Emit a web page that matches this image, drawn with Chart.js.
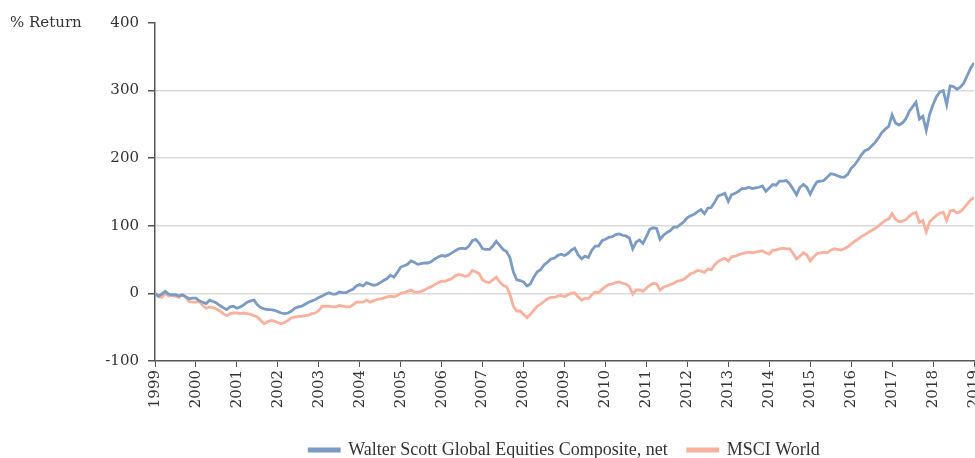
<!DOCTYPE html>
<html>
<head>
<meta charset="utf-8">
<title>% Return</title>
<script src="https://cdn.jsdelivr.net/npm/chart.js@4.4.1/dist/chart.umd.min.js"></script>
<style>
  html, body { margin: 0; padding: 0; background: #fff; }
</style>
</head>
<body>
<canvas id="returnChart" width="975" height="458"></canvas>
<script>
// Cumulative % return, monthly from Jan 1999 to Jan 2019
const startYear = 1999;
const yearTicks = [1999, 2000, 2001, 2002, 2003, 2004, 2005, 2006, 2007, 2008, 2009,
                   2010, 2011, 2012, 2013, 2014, 2015, 2016, 2017, 2018, 2019];
const seriesNames = ['Walter Scott Global Equities Composite, net', 'MSCI World'];

const walterScott = [
    0, -4, -1, 3, -1, -2, -2, -4, -2, -5, -8, -7,                // 1999
    -7, -11, -13, -15, -10, -12, -14, -18, -21, -24, -20, -19,   // 2000
    -22, -20, -17, -13, -11, -10, -17, -21, -23, -24, -24, -25,  // 2001
    -27, -29, -30, -29, -26, -22, -20, -19, -16, -13, -11, -9,   // 2002
    -6, -4, -1, 1, -1, -1, 2, 1, 1, 4, 6, 11,                    // 2003
    13, 11, 16, 14, 12, 13, 16, 19, 22, 27, 24, 31,              // 2004
    39, 41, 43, 48, 46, 43, 44, 45, 45, 47, 51, 54,              // 2005
    56, 55, 57, 60, 63, 66, 67, 66, 70, 78, 80, 74,              // 2006
    66, 65, 65, 70, 77, 71, 65, 62, 53, 32, 20, 19,              // 2007
    17, 11, 14, 24, 32, 35, 42, 46, 51, 52, 56, 58,              // 2008
    56, 59, 64, 67, 57, 51, 55, 53, 64, 70, 70, 78,              // 2009
    80, 83, 84, 87, 88, 86, 85, 82, 66, 76, 79, 74,              // 2010
    84, 95, 97, 96, 80, 86, 90, 93, 98, 98, 102, 106,            // 2011
    112, 115, 117, 121, 124, 118, 126, 127, 135, 144, 146, 148,  // 2012
    136, 146, 148, 151, 155, 155, 157, 155, 156, 157, 159, 151,  // 2013
    156, 161, 160, 166, 166, 167, 162, 154, 146, 157, 161, 157,  // 2014
    147, 157, 165, 166, 167, 172, 177, 176, 174, 172, 172, 176,  // 2015
    185, 190, 197, 205, 211, 213, 218, 223, 230, 238, 243, 247,  // 2016
    264, 252, 249, 252, 258, 269, 276, 283, 258, 262, 241, 265,  // 2017
    279, 291, 298, 300, 279, 307, 306, 302, 305, 311, 322, 333,  // 2018
    341                                                          // 2019
];

const msciWorld = [
    0, -5, -6, 0, -4, -3, -4, -6, -2, -6, -12, -13,              // 1999
    -13, -12, -18, -22, -20, -21, -23, -26, -30, -33, -30, -29,  // 2000
    -29, -30, -29, -30, -31, -33, -35, -40, -45, -42, -40, -41,  // 2001
    -43, -45, -43, -40, -36, -35, -34, -34, -33, -32, -30, -29,  // 2002
    -25, -19, -19, -19, -20, -20, -18, -19, -20, -20, -17, -13,  // 2003
    -13, -13, -10, -13, -11, -9, -8, -7, -5, -4, -5, -3,         // 2004
    0, 1, 3, 5, 2, 2, 3, 5, 8, 10, 13, 16,                       // 2005
    18, 18, 20, 22, 26, 28, 27, 25, 27, 34, 32, 29,              // 2006
    20, 17, 16, 20, 24, 17, 12, 10, -1, -19, -26, -26,           // 2007
    -31, -36, -31, -25, -19, -16, -12, -8, -6, -6, -4, -3,       // 2008
    -5, -2, 0, 1, -5, -10, -7, -8, -2, 2, 1, 6,                  // 2009
    10, 13, 14, 16, 17, 15, 14, 10, -1, 5, 5, 3,                 // 2010
    8, 12, 15, 14, 5, 9, 11, 13, 15, 18, 19, 21,                 // 2011
    25, 29, 31, 34, 33, 31, 36, 35, 42, 47, 50, 52,              // 2012
    48, 54, 55, 57, 59, 60, 61, 60, 61, 62, 63, 60,              // 2013
    58, 64, 64, 66, 67, 66, 66, 59, 51, 55, 60, 57,              // 2014
    48, 54, 59, 60, 61, 60, 64, 66, 65, 64, 66, 69,              // 2015
    73, 77, 80, 84, 87, 90, 93, 96, 100, 104, 108, 110,          // 2016
    118, 110, 106, 107, 109, 114, 118, 120, 105, 108, 91, 106,   // 2017
    111, 115, 119, 120, 108, 122, 123, 119, 121, 126, 132, 138,  // 2018
    142                                                          // 2019
];

const yMin = -100;
const yMax = 400;
const yStep = 100;

// colours
const blueLine = '#7b9bc5';
const salmonLine = '#f9b09c';
const axisColor = '#555555';
const gridColor = '#dadada';
const textColor = '#333333';
const serif = "'DejaVu Serif', serif";

// month index -> decimal year for the linear x axis
function toPoints(values) {
    return values.map((v, i) => ({ x: startYear + i / 12, y: v }));
}

// "% Return" label above the y axis
const axisTitle = {
    id: 'axisTitle',
    afterDraw(chart) {
        const ctx = chart.ctx;
        ctx.save();
        ctx.font = "15px 'DejaVu Serif'";
        ctx.fillStyle = textColor;
        ctx.textAlign = 'left';
        ctx.textBaseline = 'middle';
        ctx.fillText('% Return', 10, chart.scales.y.getPixelForValue(yMax));
        ctx.restore();
    }
};

const ctx = document.getElementById('returnChart');

new Chart(ctx, {
    type: 'line',
    data: {
        datasets: [{
            label: seriesNames[0],
            data: toPoints(walterScott),
            borderColor: blueLine,
            backgroundColor: blueLine,
            borderWidth: 2.8,
            pointRadius: 0,
            tension: 0
        }, {
            label: seriesNames[1],
            data: toPoints(msciWorld),
            borderColor: salmonLine,
            backgroundColor: salmonLine,
            borderWidth: 2.8,
            pointRadius: 0,
            tension: 0
        }]
    },
    options: {
        responsive: false,
        animation: false,
        events: [],
        layout: { padding: { top: 23, right: 1, bottom: -11, left: 0 } },
        plugins: {
            tooltip: { enabled: false },
            legend: {
                position: 'bottom',
                fullSize: false,
                labels: {
                    color: textColor,
                    font: { family: "'Liberation Serif', serif", size: 18 },
                    boxWidth: 30,
                    boxHeight: 2,
                    padding: 20
                }
            }
        },
        scales: {
            x: {
                type: 'linear',
                min: yearTicks[0],
                max: yearTicks[yearTicks.length - 1],
                afterBuildTicks: (scale) => {
                    scale.ticks = yearTicks.map(v => ({ value: v }));
                },
                afterFit: (scale) => {
                    scale.height = 60;
                    scale.paddingLeft = 0;
                    scale.paddingRight = 0;
                },
                grid: {
                    drawOnChartArea: false,
                    tickLength: 6,
                    tickColor: axisColor
                },
                border: { color: axisColor, width: 1.5 },
                ticks: {
                    autoSkip: false,
                    maxRotation: 90,
                    minRotation: 90,
                    padding: 3,
                    color: textColor,
                    font: { family: serif, size: 15 },
                    callback: (v) => String(v)
                }
            },
            y: {
                min: yMin,
                max: yMax,
                afterFit: (scale) => { scale.width = 155; },
                grid: {
                    color: (c) => (c.tick && (c.tick.value === yMin || c.tick.value === yMax)) ? 'rgba(0,0,0,0)' : gridColor,
                    lineWidth: 1.5,
                    tickLength: 7,
                    tickColor: axisColor
                },
                border: { color: axisColor, width: 1.5 },
                ticks: {
                    stepSize: yStep,
                    padding: 9,
                    color: textColor,
                    font: { family: serif, size: 15 }
                }
            }
        }
    },
    plugins: [axisTitle]
});
</script>
</body>
</html>
